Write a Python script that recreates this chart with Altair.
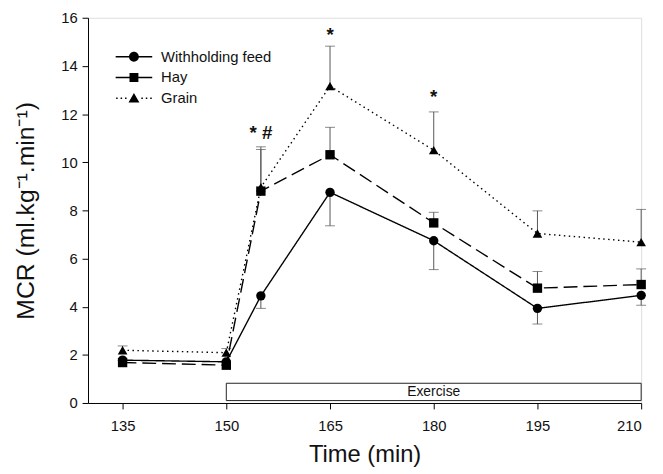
import altair as alt
import pandas as pd

# ---- data ----
times = [135, 150, 155, 165, 180, 195, 210]
series_names = ["Withholding feed", "Hay", "Grain"]
wf = [1.78, 1.71, 4.45, 8.75, 6.74, 3.93, 4.47]
wf_err = [None, None, 3.93, 7.36, 5.54, 3.28, 4.06]
hay = [1.68, 1.57, 8.80, 10.31, 7.48, 4.77, 4.92]
hay_err = [None, None, 10.53, 11.45, 7.92, 5.46, 5.57]
grain = [2.19, 2.09, 8.96, 13.16, 10.50, 7.04, 6.68]
grain_err = [2.37, 2.26, 10.64, 14.82, 12.09, 7.98, 8.04]

sig_t = [155, 165, 180]
sig_y = [11.2, 15.3, 12.7]
sig_txt = ["* #", "*", "*"]

exercise_start, exercise_end = 150, 210
exercise_lo, exercise_hi = 0.10, 0.82

FONT = "Liberation Sans"

rows = []
for name, vals, errs in zip(series_names, [wf, hay, grain], [wf_err, hay_err, grain_err]):
    for t, v, e in zip(times, vals, errs):
        rows.append({"t": t, "value": v, "err": e, "series": name})
df = pd.DataFrame(rows)

sig_df = pd.DataFrame({"t": sig_t, "y": sig_y, "txt": sig_txt})
ex_df = pd.DataFrame({"t1": [exercise_start], "t2": [exercise_end],
                      "y1": [exercise_lo], "y2": [exercise_hi],
                      "tm": [(exercise_start + exercise_end) / 2],
                      "ym": [(exercise_lo + exercise_hi) / 2], "label": ["Exercise"]})

xs = alt.Scale(domain=[130, 210], nice=False, zero=False)
ys = alt.Scale(domain=[0, 16], nice=False)

X = alt.X("t:Q", scale=xs, title="Time (min)",
          axis=alt.Axis(values=[135, 150, 165, 180, 195, 210], grid=False,
                        domainColor="black", tickColor="black", tickSize=6,
                        labelFont=FONT, labelFontSize=15, labelColor="#111",
                        labelPadding=10, titleFont=FONT, titleFontSize=24,
                        titleFontWeight="normal", titleColor="#111", titlePadding=9))
Y = alt.Y("value:Q", scale=ys, title="MCR (ml.kg\u207b\u00b9.min\u207b\u00b9)",
          axis=alt.Axis(values=list(range(0, 17, 2)), grid=False,
                        domainColor="black", tickColor="black", tickSize=6,
                        labelFont=FONT, labelFontSize=15, labelColor="#111",
                        labelPadding=5, titleFont=FONT, titleFontSize=25,
                        titleFontWeight="normal", titleColor="#111", titlePadding=22))

base = alt.Chart(df)

dash = {"Withholding feed": [1, 0], "Hay": [14, 6], "Grain": [1.5, 3.5]}
shape = {"Withholding feed": "circle", "Hay": "square", "Grain": "triangle-up"}

layers = []
# exercise box
layers.append(alt.Chart(ex_df).mark_rect(fill="white", stroke="#222", strokeWidth=1).encode(
    x=alt.X("t1:Q", scale=xs), x2="t2:Q", y=alt.Y("y1:Q", scale=ys), y2="y2:Q"))
layers.append(alt.Chart(ex_df).mark_text(font=FONT, fontSize=14, color="#111", baseline="middle").encode(
    x=alt.X("tm:Q", scale=xs), y=alt.Y("ym:Q", scale=ys), text="label:N"))

# error bars
err = base.transform_filter("isValid(datum.err)")
layers.append(err.mark_rule(color="#555", strokeWidth=1).encode(
    x=alt.X("t:Q", scale=xs), y=alt.Y("value:Q", scale=ys), y2="err:Q"))
layers.append(err.mark_tick(color="#555", orient="horizontal", size=10, thickness=1).encode(
    x=alt.X("t:Q", scale=xs), y=alt.Y("err:Q", scale=ys)))

for name in ["Grain", "Hay", "Withholding feed"]:
    sub = base.transform_filter(alt.datum.series == name)
    layers.append(sub.mark_line(color="black", strokeWidth=1.4, strokeDash=dash[name]).encode(
        x=X if name == "Grain" else alt.X("t:Q", scale=xs),
        y=Y if name == "Grain" else alt.Y("value:Q", scale=ys)))
for name in ["Grain", "Hay", "Withholding feed"]:
    sub = base.transform_filter(alt.datum.series == name)
    sz = 90 if name != "Grain" else 95
    layers.append(sub.mark_point(filled=True, color="black", opacity=1, size=sz,
                                 shape=shape[name]).encode(
        x=alt.X("t:Q", scale=xs), y=alt.Y("value:Q", scale=ys)))

# significance marks
layers.append(alt.Chart(sig_df).mark_text(font=FONT, fontSize=19, fontWeight="bold", color="#111",
                                          baseline="middle").encode(
    x=alt.X("t:Q", scale=xs), y=alt.Y("y:Q", scale=ys), text="txt:N"))

# legend symbols: line segment drawn as thin filled bars + marker
seg_l = "M-3.7,-0.14H-0.8V0.14H-3.7Z"
seg_r = "M0.8,-0.14H3.7V0.14H0.8Z"
dots = "".join(f"M{x:.2f},-0.15h0.3v0.3h-0.3Z" for x in [-3.6, -2.7, -1.8, 1.5, 2.4, 3.3])
leg_paths = [
    seg_l + seg_r + "M-1,0A1,1 0 1,1 1,0A1,1 0 1,1 -1,0Z",
    seg_l + seg_r + "M-0.9,-0.9H0.9V0.9H-0.9Z",
    dots + "M0,-1.05L1.1,0.85H-1.1Z",
]
legend = alt.Legend(title=None, orient="none", legendX=39, legendY=32, padding=0,
                    labelFont=FONT, labelFontSize=15, labelColor="#111", labelOffset=20,
                    symbolSize=100, symbolStrokeWidth=0, symbolFillColor="black",
                    rowPadding=5, symbolOffset=0)
layers.append(base.transform_filter("datum.t < 0").mark_point(
        filled=True, color="black", opacity=1).encode(
    x=alt.X("t:Q", scale=xs), y=alt.Y("value:Q", scale=ys),
    shape=alt.Shape("series:N", scale=alt.Scale(domain=series_names, range=leg_paths), legend=legend)))

chart = alt.layer(*layers).properties(
    width=560, height=390,
    autosize=alt.AutoSizeParams(type="none"),
    padding={"left": 81, "top": 7, "right": 14, "bottom": 69},
).configure_view(stroke=None).configure(background="white")

chart.save("out.html", embed_options={"renderer": "svg", "actions": False})
